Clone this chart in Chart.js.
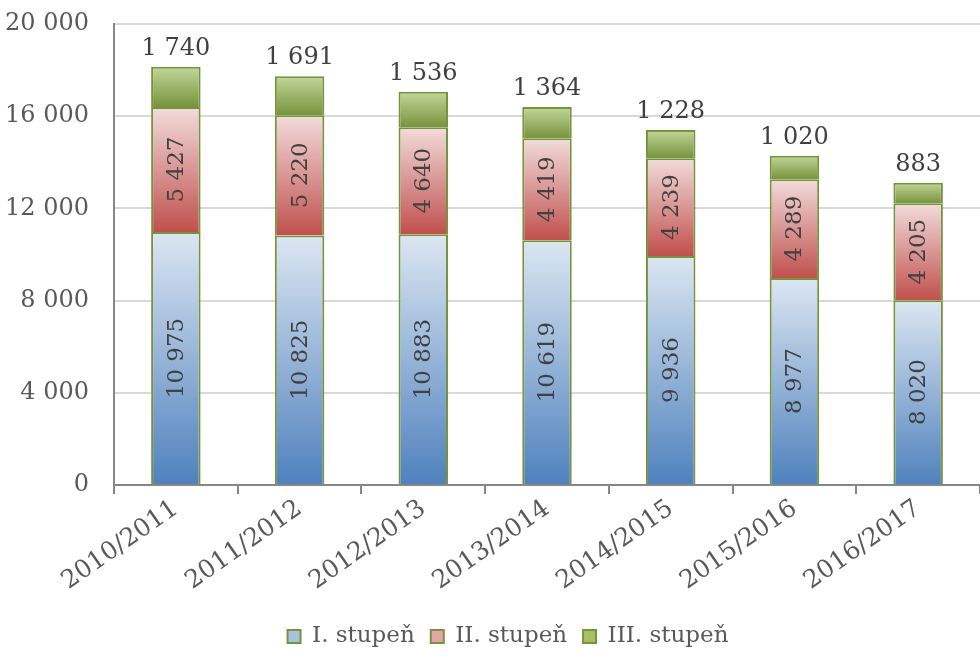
<!DOCTYPE html>
<html>
<head>
<meta charset="utf-8">
<script src="https://cdn.jsdelivr.net/npm/chart.js@4"></script>
<style>
  html, body { margin: 0; padding: 0; background: #fff; }
  #wrap { width: 980px; height: 660px; }
</style>
</head>
<body>
<div id="wrap"><canvas id="stupneChart"></canvas></div>
<script>
// data
const roky = ['2010/2011', '2011/2012', '2012/2013', '2013/2014', '2014/2015', '2015/2016', '2016/2017'];
const stupen1 = [10975, 10825, 10883, 10619, 9936, 8977, 8020];
const stupen2 = [5427, 5220, 4640, 4419, 4239, 4289, 4205];
const stupen3 = [1740, 1691, 1536, 1364, 1228, 1020, 883];
const yTicks = [0, 4000, 8000, 12000, 16000, 20000];

const FONT = '"DejaVu Serif", serif';
const gradBarvy = [
    ['#dce6f2', '#4f81bd'],
    ['#f2dcdb', '#c0504d'],
    ['#c3d69b', '#77933c']
];
const series = [stupen1, stupen2, stupen3];

function cislo(v) {
    return String(v).replace(/\B(?=(\d{3})+(?!\d))/g, ' ');
}

// gradient per segment, from its own top to its bottom
function barGradient(ctx) {
    const chart = ctx.chart;
    const ys = chart.scales && chart.scales.y;
    const cols = gradBarvy[ctx.datasetIndex];
    if (!ys || ctx.dataIndex === undefined) return cols[1];
    let start = 0;
    for (let d = 0; d < ctx.datasetIndex; d++) start += series[d][ctx.dataIndex];
    const end = start + series[ctx.datasetIndex][ctx.dataIndex];
    const top = ys.getPixelForValue(end);
    const bottom = ys.getPixelForValue(start);
    const g = chart.ctx.createLinearGradient(0, top, 0, bottom);
    g.addColorStop(0, cols[0]);
    g.addColorStop(1, cols[1]);
    return g;
}

// labels: rotated inside segments 1-2, horizontal above segment 3
const popisky = {
    id: 'popisky',
    afterLayout(chart) {
        // legend in the original sits a bit right of centre
        if (chart.legend) {
            chart.legend.left += 18;
            chart.legend.right += 18;
        }
    },
    afterDatasetsDraw(chart) {
        const c = chart.ctx;
        c.save();
        c.fillStyle = '#404040';
        chart.data.datasets.forEach((ds, di) => {
            const meta = chart.getDatasetMeta(di);
            meta.data.forEach((bar, i) => {
                const txt = cislo(ds.data[i]);
                if (di < 2) {
                    c.save();
                    c.font = '23px ' + FONT;
                    c.translate(bar.x, (bar.y + bar.base) / 2);
                    c.rotate(-Math.PI / 2);
                    c.textAlign = 'center';
                    c.textBaseline = 'middle';
                    c.fillText(txt, 0, 1);
                    c.restore();
                } else {
                    c.font = '24px ' + FONT;
                    c.textAlign = 'center';
                    c.textBaseline = 'alphabetic';
                    c.fillText(txt, bar.x, bar.y - 12);
                }
            });
        });
        c.restore();
    }
};

const legendBarvy = ['#a9c2e0', '#e3a6a4', '#a5c065'];

new Chart(document.getElementById('stupneChart'), {
    type: 'bar',
    data: {
        labels: roky,
        datasets: [
            { label: 'I. stupeň', data: stupen1 },
            { label: 'II. stupeň', data: stupen2 },
            { label: 'III. stupeň', data: stupen3 }
        ].map(ds => Object.assign(ds, {
            backgroundColor: barGradient,
            borderColor: '#77933c',
            borderWidth: 2,
            categoryPercentage: 1,
            barPercentage: 0.4
        }))
    },
    options: {
        responsive: true,
        maintainAspectRatio: false,
        animation: false,
        layout: { padding: { left: 0, top: 24, right: 0, bottom: 2 } },
        plugins: {
            tooltip: { enabled: false },
            legend: {
                position: 'bottom',
                labels: {
                    font: { family: FONT, size: 23 },
                    color: '#595959',
                    boxWidth: 13,
                    boxHeight: 13,
                    padding: 16,
                    generateLabels(chart) {
                        return chart.data.datasets.map((ds, i) => ({
                            text: ds.label,
                            fillStyle: legendBarvy[i],
                            strokeStyle: '#77933c',
                            lineWidth: 2,
                            fontColor: '#595959',
                            datasetIndex: i
                        }));
                    }
                }
            }
        },
        scales: {
            x: {
                stacked: true,
                afterFit(axis) {
                    axis.paddingLeft = 0;
                    axis.paddingRight = 0;
                    axis.height = 124;
                },
                grid: {
                    offset: true,
                    drawOnChartArea: false,
                    drawTicks: true,
                    tickLength: 9,
                    color: '#868686',
                    lineWidth: 2
                },
                border: { color: '#868686', width: 2 },
                ticks: {
                    font: { family: FONT, size: 25 },
                    color: '#595959',
                    minRotation: 35,
                    maxRotation: 35,
                    padding: 0
                }
            },
            y: {
                stacked: true,
                min: 0,
                max: 20000,
                afterBuildTicks(axis) {
                    axis.ticks = yTicks.map(v => ({ value: v }));
                },
                afterFit(axis) {
                    axis.paddingTop = 0;
                    axis.paddingBottom = 0;
                    axis.width = 114;
                },
                grid: { color: '#d9d9d9', lineWidth: 2, drawTicks: false },
                border: { color: '#868686', width: 2 },
                ticks: {
                    font: { family: FONT, size: 24 },
                    color: '#595959',
                    padding: 25,
                    callback: v => cislo(v)
                }
            }
        }
    },
    plugins: [popisky]
});
</script>
</body>
</html>
